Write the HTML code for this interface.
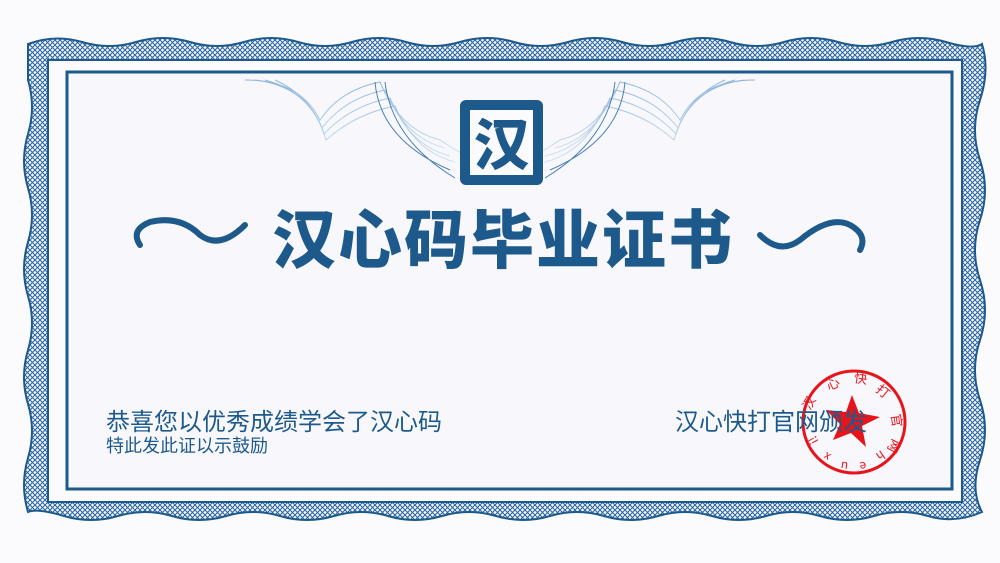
<!DOCTYPE html>
<html><head><meta charset="utf-8"><style>
html,body{margin:0;padding:0;width:1000px;height:563px;overflow:hidden;background:#fbfbfd;font-family:"Liberation Sans","Noto Sans CJK SC",sans-serif}
.t{position:absolute;color:#1d5a8b;white-space:nowrap}
</style></head><body>
<svg width="1000" height="563" style="position:absolute;left:0;top:0">
<defs>
<pattern id="hatch" width="5" height="5" patternUnits="userSpaceOnUse">
<path d="M0,0 L5,5 M5,0 L0,5" stroke="#2b67a3" stroke-width="1.1"/>
</pattern>
<linearGradient id="fade" x1="0" x2="0" y1="0" y2="1"><stop offset="0" stop-color="#8fb6dc"/><stop offset="1" stop-color="#cfe0f0"/></linearGradient>
</defs>
<path fill="url(#hatch)" stroke="#1d5a8b" stroke-width="2"
d="M28,44 Q55,34 82,42 T136,42 T190,42 T244,42 T298,42 T352,42 T406,42 T460,42 T514,42 T568,42 T622,42 T676,42 T730,42 T784,42 T838,42 T892,42 T946,42 T982,44
Q990,70 980,100 T980,160 T980,220 T980,280 T980,340 T980,400 T980,460 T982,512
Q955,524 928,516 T874,516 T820,516 T766,516 T712,516 T658,516 T604,516 T550,516 T496,516 T442,516 T388,516 T334,516 T280,516 T226,516 T172,516 T118,516 T64,516 T28,512
Q20,485 28,458 T28,404 T28,350 T28,296 T28,242 T28,188 T28,134 T28,80 Z"/>
<rect x="48" y="60" width="914" height="442" fill="#fbfbfe" stroke="#1d5a8b" stroke-width="2"/>
<rect x="67" y="72" width="885" height="417" fill="#f8f8fc" stroke="#1d5a8b" stroke-width="3"/>
<g fill="none" stroke="url(#fade)" stroke-width="1">
<path d="M245,80 Q300,80 320,120 Q340,90 380,82 Q400,130 440,140 Q470,160 480,160"/>
<path d="M255,80 Q305,86 322,128 Q345,98 385,90 Q405,138 445,148"/>
<path d="M265,80 Q310,92 324,134 Q350,106 390,98 Q410,146 450,156"/>
<path d="M275,80 Q315,98 326,140 Q355,114 395,106 Q415,152 455,162"/>
<path d="M755,80 Q700,80 680,120 Q660,90 620,82 Q600,130 560,140 Q530,160 520,160"/>
<path d="M745,80 Q695,86 678,128 Q655,98 615,90 Q595,138 555,148"/>
<path d="M735,80 Q690,92 676,134 Q650,106 610,98 Q590,146 545,156"/>
<path d="M725,80 Q685,98 674,140 Q645,114 605,106 Q585,152 545,162"/>
<path d="M375,82 Q380,140 450,170 M385,82 Q392,140 455,178 M625,82 Q620,140 550,170 M615,82 Q608,140 545,178" stroke="#4a7fb5"/>
</g>
<g>
<rect x="460" y="100" width="83" height="85" rx="6" fill="#1d5a8b"/>
<rect x="470" y="110" width="63" height="65" fill="#fbfbfe"/>
<text x="501.5" y="165" text-anchor="middle" font-size="56" font-weight="900" fill="#1d5a8b" font-family="Noto Sans CJK SC,sans-serif">汉</text>
</g>
<g fill="none" stroke="#1d5a8b" stroke-width="6" stroke-linecap="round">
<path d="M140,245 Q130,230 150,222 Q180,215 200,235 Q220,250 245,225"/>
</g>
<g fill="none" stroke="#1d5a8b" stroke-width="6" stroke-linecap="round">
<path d="M760,235 Q780,255 800,240 Q830,215 850,225 Q868,235 860,250"/>
</g>
<g fill="#e8141c" font-size="13" text-anchor="middle" font-family="Noto Sans CJK SC,sans-serif">
<circle cx="854" cy="422" r="51" fill="none" stroke="#e8141c" stroke-width="3"/>
<polygon points="852,395 859,413 880,417 862,426 866,447 851,433 833,440 840,424 826,410 846,412"/>
<text transform="translate(813,405) rotate(-62)">汉</text>
<text transform="translate(835,388) rotate(-26)">心</text>
<text transform="translate(860,383) rotate(8)">快</text>
<text transform="translate(880,395) rotate(39)">打</text>
<text transform="translate(892,421) rotate(82)">官</text>
<text transform="translate(890,444) rotate(117)">网</text>
<text font-size="12" transform="translate(878,452) rotate(-215)">h</text>
<text font-size="12" transform="translate(862,462) rotate(-195)">e</text>
<text font-size="12" transform="translate(845,462) rotate(-170)">u</text>
<text font-size="12" transform="translate(829,453) rotate(-150)">x</text>
<text font-size="12" transform="translate(817,438) rotate(-120)">i!</text>
</g>
</svg>
<div class="t" style="left:272px;top:190px;font-size:64px;font-weight:900;letter-spacing:2px;font-family:'Noto Sans CJK SC',sans-serif">汉心码毕业证书</div>
<div class="t" style="left:106px;top:402px;font-size:24px">恭喜您以优秀成绩学会了汉心码</div>
<div class="t" style="left:106px;top:432px;font-size:18px">特此发此证以示鼓励</div>
<div class="t" style="left:675px;top:402px;font-size:24px">汉心快打官网颁发</div>
</body></html>
